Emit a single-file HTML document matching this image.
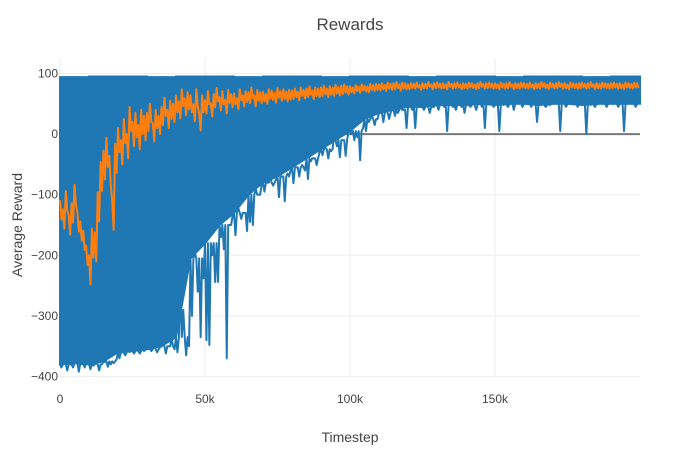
<!DOCTYPE html>
<html><head><meta charset="utf-8"><style>
html,body{margin:0;padding:0;background:#fff;}
svg{display:block;font-family:"Liberation Sans",sans-serif;}
</style></head><body>
<svg id="chart" width="700" height="450">
<rect x="0" y="0" width="700" height="450" fill="#fff"/>
<g id="grid"></g>
<g id="traces"></g>
<g id="ticks"></g>
<text x="350" y="30" text-anchor="middle" font-size="17" fill="#444">Rewards</text>
<text x="350" y="442" text-anchor="middle" font-size="14" fill="#444">Timestep</text>
<text transform="translate(22,225) rotate(-90)" text-anchor="middle" font-size="14" fill="#444">Average Reward</text>
</svg>
<script>
const xTicks = [0, 50000, 100000, 150000];
const xTickLabels = ["0", "50k", "100k", "150k"];
const yTicks = [100, 0, -100, -200, -300, -400];
const yTickLabels = ["100", "0", "\u2212100", "\u2212200", "\u2212300", "\u2212400"];
const stepSize = 1000;
const baseStep = 5000;
const blueHigh = [94,95,95,94,95,95,94,95,95,94,95,95,94,95,95,94,95,95,94,95];
const blueBase = [-380,-378,-380,-375,-360,-358,-355,-350,-335,-205,-180,-150,-130,-100,-80,-70,-55,-40,-25,-10,5,25,35,40,45,45,48,48,48,50,48,50,50,48,50,50,48,50,50,50,50];
const blueLow = [
-385,-375,-390,-380,-385,-378,-392,-380,-385,-375,-388,-382,-378,-390,-380,-376,-384,-380,-378,-372,-370,
-360,-365,-340,-355,-362,-345,-362,-350,-355,-340,-358,-348,-360,-352,-345,-362,-350,-338,-355,
-360,-244,-290,-365,-350,-300,-195,-260,-335,-238,
-340,-348,-200,-244,-244,-170,-190,-370,-150,-135,
-167,-122,-140,-130,-160,-145,-150,-90,-100,-85,
-95,-80,-70,-85,-75,-104,-70,-111,-65,-60,
-81,-55,-70,-51,-60,-74,-45,-40,-51,-30,
-35,-23,-40,-28,0,-20,-38,-10,-36,5,
0,-10,-5,-43,10,5,20,30,15,25,
35,20,40,25,43,30,35,45,40,10,
45,40,10,50,45,40,50,35,45,50,
40,50,45,5,50,45,40,50,45,35,
50,45,55,40,50,45,10,50,55,45,
50,5,50,55,45,50,40,55,50,45,
55,50,45,55,20,50,55,45,50,55,
50,55,5,50,45,55,50,55,45,50,
55,0,50,55,45,50,55,50,45,55,
50,55,45,50,5,50,55,50,45,55];
const orangeMean = [
-125,-140,-110,-150,-130,-100,-145,-160,-175,-200,
-224,-180,-186,-120,-70,-51,-30,-60,-134,-40,
-10,-30,5,-20,25,0,15,-5,20,10,
20,35,3,25,15,30,45,25,40,35,
50,40,60,45,55,50,35,60,20,50,
45,60,40,55,65,50,60,45,62,55,
58,50,65,55,62,60,68,55,64,60,
62,58,66,64,60,68,63,66,62,65,
65,68,63,70,66,68,72,65,70,68,
70,73,68,72,70,74,71,73,75,72,
74,72,76,73,77,75,74,78,76,78,
77,79,76,80,78,79,81,77,80,79,
78,80,79,81,77,80,79,82,78,80,
81,79,80,78,82,79,80,81,78,80,
79,81,80,78,80,82,79,80,81,79,
80,78,81,79,80,82,78,80,79,81,
80,79,81,78,80,79,82,80,78,81,
79,80,82,79,80,78,81,80,79,80,
81,79,80,82,78,80,79,81,80,79,
80,81,79,80,78,81,80,79,81,80];
const orangeSpread = [16,24,20,15,14,11,9,8,7,7,5,5,4,4,4,4,4,4,4,4];
const NS = "http://www.w3.org/2000/svg";
const X0 = 60, X1 = 640, XMAX = 200000;
const Y100 = 73.5, YPX = 0.606;
function sx(v){ return X0 + (v / XMAX) * (X1 - X0); }
function sy(v){ return Y100 + (100 - v) * YPX; }
const grid = document.getElementById("grid");
const ticks = document.getElementById("ticks");
const traces = document.getElementById("traces");
yTicks.forEach((v, i) => {
  const l = document.createElementNS(NS, "line");
  l.setAttribute("x1", X0); l.setAttribute("x2", X1);
  l.setAttribute("y1", sy(v)); l.setAttribute("y2", sy(v));
  l.setAttribute("stroke", "#eee"); l.setAttribute("stroke-width", "1");
  
  
  grid.appendChild(l);
  const t = document.createElementNS(NS, "text");
  t.setAttribute("x", X0 - 2); t.setAttribute("y", sy(v) + 4);
  t.setAttribute("text-anchor", "end"); t.setAttribute("font-size", "12"); t.setAttribute("fill", "#444");
  t.textContent = yTickLabels[i];
  
  
  ticks.appendChild(t);
});
xTicks.forEach((v, i) => {
  const l = document.createElementNS(NS, "line");
  l.setAttribute("x1", sx(v)); l.setAttribute("x2", sx(v));
  l.setAttribute("y1", sy(100) - 15); l.setAttribute("y2", sy(-400));
  l.setAttribute("stroke", "#eee"); l.setAttribute("stroke-width", "1");
  
  
  grid.appendChild(l);
  const t = document.createElementNS(NS, "text");
  t.setAttribute("x", sx(v)); t.setAttribute("y", 403);
  t.setAttribute("text-anchor", "middle"); t.setAttribute("font-size", "12"); t.setAttribute("fill", "#444");
  t.textContent = xTickLabels[i];
  
  
  ticks.appendChild(t);
});
const zl = document.createElementNS(NS, "line");
zl.setAttribute("x1", X0); zl.setAttribute("x2", X1);
zl.setAttribute("y1", sy(0)); zl.setAttribute("y2", sy(0));
zl.setAttribute("stroke", "#777"); zl.setAttribute("stroke-width", "2");


grid.appendChild(zl);
let fp = "";
blueHigh.forEach((v, i) => {
  fp += (i === 0 ? "M" : "L") + sx(i * 10 * stepSize).toFixed(2) + "," + sy(v).toFixed(2);
  fp += "L" + sx((i + 1) * 10 * stepSize).toFixed(2) + "," + sy(v).toFixed(2);
});
for (let i = blueBase.length - 1; i >= 0; i--) {
  fp += "L" + sx(Math.min(i * baseStep, XMAX)).toFixed(2) + "," + sy(blueBase[i]).toFixed(2);
}
fp += "Z";
const band = document.createElementNS(NS, "path");
band.setAttribute("d", fp);
band.setAttribute("fill", "#1f77b4"); band.setAttribute("stroke", "#1f77b4"); band.setAttribute("stroke-width", "2");


traces.appendChild(band);
let bp = "";
blueLow.forEach((v, i) => {
  const base = blueBase[Math.floor(i * stepSize / baseStep)];
  const xa = sx(i * stepSize), xb = sx((i + 0.5) * stepSize);
  bp += (i === 0 ? "M" : "L") + xa.toFixed(2) + "," + sy(base).toFixed(2) + "L" + xb.toFixed(2) + "," + sy(v).toFixed(2);
});
const blue = document.createElementNS(NS, "path");
blue.setAttribute("d", bp);
blue.setAttribute("fill", "none"); blue.setAttribute("stroke", "#1f77b4"); blue.setAttribute("stroke-width", "2");
blue.setAttribute("stroke-linejoin", "round");


traces.appendChild(blue);
let op = "";
orangeMean.forEach((v, i) => {
  const s = orangeSpread[Math.floor(i / 10)];
  op += (i === 0 ? "M" : "L") + sx(i * stepSize).toFixed(2) + "," + sy(v + s).toFixed(2);
  op += "L" + sx((i + 0.5) * stepSize).toFixed(2) + "," + sy(v - s).toFixed(2);
});
const orange = document.createElementNS(NS, "path");
orange.setAttribute("d", op);
orange.setAttribute("fill", "none"); orange.setAttribute("stroke", "#ff7f0e"); orange.setAttribute("stroke-width", "2");
orange.setAttribute("stroke-linejoin", "round");


traces.appendChild(orange);
</script>
</body></html>
